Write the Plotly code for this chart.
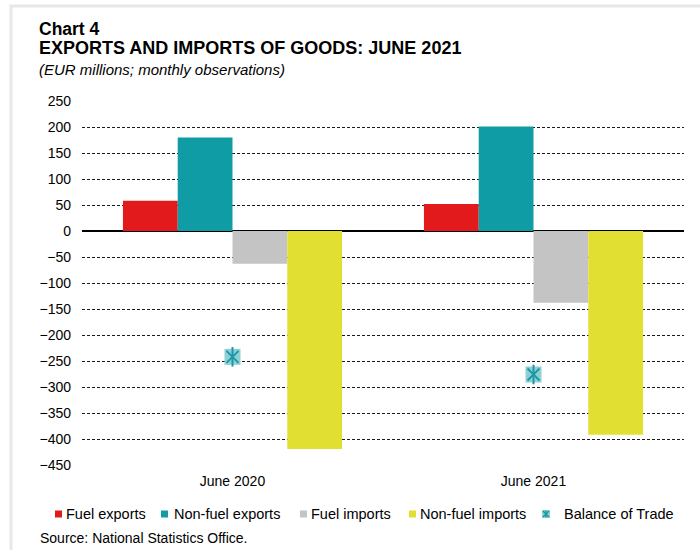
import plotly.graph_objects as go

categories = ["June 2020", "June 2021"]
fuel_exports = [58, 52]
nonfuel_exports = [180, 201]
fuel_imports = [-63, -138]
nonfuel_imports = [-419, -392]
balance_of_trade = [-242, -276]
y_ticks = list(range(-450, 251, 50))

W, H = 700, 550
L, R, T, B = 82, 16, 101, 85
PW, PH = W - L - R, H - T - B
FONT = "Liberation Sans, Arial, sans-serif"


def px(xp):
    return (xp - L) / PW


def py(yp):
    return (T + PH - yp) / PH


RED = "#e21a1c"
TEAL = "#109ca4"
GREY = "#c4c4c4"
YELLOW = "#e1e032"
LTEAL = "#8fd0d7"
DTEAL = "#1b9aa5"

fig = go.Figure()
for name, vals, col in [
    ("Fuel exports", fuel_exports, RED),
    ("Non-fuel exports", nonfuel_exports, TEAL),
    ("Fuel imports", fuel_imports, GREY),
    ("Non-fuel imports", nonfuel_imports, YELLOW),
]:
    fig.add_trace(go.Bar(x=categories, y=vals, name=name, marker_color=col,
                         marker_line_width=0, showlegend=False))

fig.add_trace(go.Scatter(x=categories, y=balance_of_trade, mode="markers",
                         name="Balance of Trade", showlegend=False,
                         marker=dict(symbol="square", size=16, color=LTEAL,
                                     line=dict(width=0))))
fig.add_trace(go.Scatter(x=categories, y=balance_of_trade, mode="markers",
                         showlegend=False, hoverinfo="skip",
                         marker=dict(symbol="x-thin-open", size=12, color=DTEAL,
                                     line=dict(width=2, color=DTEAL))))
fig.add_trace(go.Scatter(x=categories, y=balance_of_trade, mode="markers",
                         showlegend=False, hoverinfo="skip",
                         marker=dict(symbol="line-ns-open", size=14, color=DTEAL,
                                     line=dict(width=2, color=DTEAL))))

shapes = []
annotations = []

# frame
shapes.append(dict(type="rect", xref="paper", yref="paper",
                   x0=px(11), x1=px(703), y0=py(6), y1=py(553),
                   line=dict(color="#e8e8e8", width=3), layer="below"))

# titles
for txt, yc, size, bold, ital in [
    ("Chart 4", 28.5, 17.5, True, False),
    ("EXPORTS AND IMPORTS OF GOODS: JUNE 2021", 48, 18, True, False),
    ("(EUR millions; monthly observations)", 69, 15, False, True),
]:
    t = txt
    if bold:
        t = "<b>" + t + "</b>"
    if ital:
        t = "<i>" + t + "</i>"
    annotations.append(dict(text=t, xref="paper", yref="paper", x=px(37), y=py(yc),
                            xanchor="left", yanchor="middle", showarrow=False,
                            font=dict(family=FONT, size=size, color="#000")))

# legend (manual)
leg_y = 514
LEG_FS = 14.5
legend_items = [
    ("Fuel exports", RED, 55, 64),
    ("Non-fuel exports", TEAL, 161, 172),
    ("Fuel imports", GREY, 300, 309),
    ("Non-fuel imports", YELLOW, 409, 418),
]
for name, col, sx, tx in legend_items:
    shapes.append(dict(type="rect", xref="paper", yref="paper",
                       x0=px(sx), x1=px(sx + 7), y0=py(leg_y + 3.5), y1=py(leg_y - 3.5),
                       fillcolor=col, line=dict(width=0)))
    annotations.append(dict(text=name, xref="paper", yref="paper", x=px(tx), y=py(leg_y),
                            xanchor="left", yanchor="middle", showarrow=False,
                            font=dict(family=FONT, size=LEG_FS, color="#000")))
# balance legend marker
bx0, bx1 = 542, 550
shapes.append(dict(type="rect", xref="paper", yref="paper",
                   x0=px(bx0), x1=px(bx1), y0=py(leg_y + 4), y1=py(leg_y - 4),
                   fillcolor=LTEAL, line=dict(width=0)))
shapes.append(dict(type="line", xref="paper", yref="paper",
                   x0=px(bx0 + 1), x1=px(bx1 - 1), y0=py(leg_y + 3), y1=py(leg_y - 3),
                   line=dict(color=DTEAL, width=1.5)))
shapes.append(dict(type="line", xref="paper", yref="paper",
                   x0=px(bx0 + 1), x1=px(bx1 - 1), y0=py(leg_y - 3), y1=py(leg_y + 3),
                   line=dict(color=DTEAL, width=1.5)))
shapes.append(dict(type="line", xref="paper", yref="paper",
                   x0=px((bx0 + bx1) / 2), x1=px((bx0 + bx1) / 2), y0=py(leg_y - 3.5), y1=py(leg_y + 3.5),
                   line=dict(color=DTEAL, width=1.5)))
annotations.append(dict(text="Balance of Trade", xref="paper", yref="paper", x=px(562), y=py(leg_y),
                        xanchor="left", yanchor="middle", showarrow=False,
                        font=dict(family=FONT, size=LEG_FS, color="#000")))

annotations.append(dict(text="Source: National Statistics Office.", xref="paper", yref="paper",
                        x=px(38), y=py(538), xanchor="left", yanchor="middle", showarrow=False,
                        font=dict(family=FONT, size=14, color="#000")))

fig.update_layout(
    width=W, height=H,
    margin=dict(l=L, r=R, t=T, b=B, autoexpand=False),
    paper_bgcolor="white", plot_bgcolor="white",
    barmode="group", bargap=0.272, bargroupgap=0,
    showlegend=False,
    font=dict(family=FONT, size=14, color="#000"),
    shapes=shapes, annotations=annotations,
    xaxis=dict(showgrid=False, showline=False, zeroline=False, ticks="",
               ticklabelstandoff=6,
               tickfont=dict(family=FONT, size=14, color="#000")),
    yaxis=dict(range=[-450, 250], tickvals=y_ticks, showgrid=True,
               gridcolor="#1a1a1a", gridwidth=1, griddash="3px,2px",
               zeroline=True, zerolinecolor="#000", zerolinewidth=2,
               showline=False, ticks="", ticklabelstandoff=10,
               tickfont=dict(family=FONT, size=14, color="#000")),
)

fig.write_html("out.html")
